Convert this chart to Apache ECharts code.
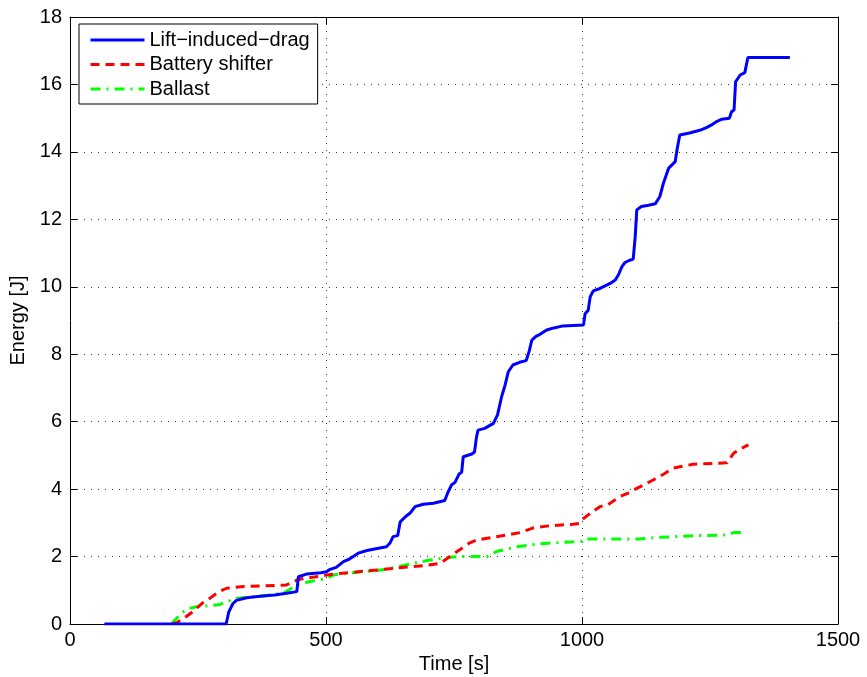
<!DOCTYPE html>
<html><head><meta charset="utf-8">
<script src="https://cdn.jsdelivr.net/npm/echarts@6/dist/echarts.min.js"></script>
<style>html,body{margin:0;padding:0;background:#fff}#c{width:867px;height:677px}</style>
</head><body><div id="c"></div>
<script>
const xTicks = [0, 500, 1000, 1500];
const yTicks = [0, 2, 4, 6, 8, 10, 12, 14, 16, 18];
const seriesNames = ['Lift\u2212induced\u2212drag', 'Battery shifter', 'Ballast'];
const liftDrag = [[67,0],[305,0],[310,0.35],[318,0.6],[325,0.7],[345,0.78],[371,0.82],[400,0.86],[423,0.91],[443,0.96],[446,1.40],[462,1.48],[490,1.52],[501,1.55],[508,1.62],[520,1.68],[534,1.85],[545,1.92],[563,2.10],[580,2.18],[600,2.24],[618,2.29],[625,2.40],[631,2.59],[640,2.62],[645,3.03],[655,3.18],[665,3.30],[674,3.48],[690,3.55],[710,3.58],[732,3.66],[738,3.9],[745,4.12],[752,4.2],[760,4.45],[765,4.5],[768,4.96],[785,5.04],[790,5.1],[794,5.55],[797,5.75],[810,5.8],[827,5.95],[835,6.2],[843,6.74],[850,7.1],[856,7.48],[865,7.68],[878,7.76],[891,7.81],[897,8.1],[902,8.42],[910,8.53],[918,8.59],[931,8.72],[945,8.78],[963,8.84],[1003,8.87],[1006,9.2],[1012,9.3],[1016,9.7],[1022,9.88],[1035,9.95],[1055,10.10],[1065,10.2],[1071,10.35],[1078,10.6],[1084,10.72],[1092,10.78],[1100,10.82],[1104,11.5],[1107,12.28],[1116,12.38],[1130,12.42],[1143,12.46],[1152,12.67],[1159,13.07],[1169,13.51],[1182,13.71],[1186,14.1],[1191,14.5],[1210,14.56],[1230,14.64],[1243,14.72],[1253,14.80],[1263,14.9],[1273,14.97],[1288,15.0],[1292,15.19],[1297,15.24],[1300,16.08],[1309,16.28],[1318,16.35],[1324,16.8],[1406,16.8]];
const batteryShifter = [[199,0],[210,0.05],[225,0.2],[241,0.38],[257,0.6],[273,0.76],[290,0.95],[306,1.06],[339,1.11],[380,1.13],[423,1.16],[443,1.30],[456,1.35],[480,1.40],[501,1.45],[527,1.50],[579,1.57],[631,1.65],[690,1.73],[723,1.80],[740,1.98],[762,2.21],[780,2.40],[794,2.49],[833,2.59],[879,2.71],[905,2.85],[935,2.91],[983,2.96],[995,2.98],[1003,3.13],[1016,3.28],[1035,3.48],[1050,3.53],[1074,3.78],[1090,3.88],[1100,3.97],[1115,4.08],[1139,4.27],[1160,4.45],[1178,4.62],[1217,4.74],[1283,4.78],[1296,5.06],[1310,5.2],[1325,5.31]];
const ballast = [[199,0],[205,0.12],[220,0.35],[230,0.45],[247,0.51],[270,0.54],[293,0.58],[310,0.68],[325,0.76],[350,0.8],[371,0.82],[417,0.91],[443,1.16],[469,1.26],[501,1.35],[514,1.45],[553,1.52],[618,1.62],[664,1.78],[697,1.88],[736,1.97],[762,2.0],[814,2.0],[833,2.15],[872,2.29],[918,2.38],[983,2.44],[1000,2.46],[1003,2.52],[1111,2.52],[1152,2.57],[1224,2.62],[1283,2.64],[1296,2.71],[1318,2.71]];

const FONT = 'Liberation Sans';
const FS = 20;
const chart = echarts.init(document.getElementById('c'), null, {renderer: 'canvas'});
const gridLine = {show: true, lineStyle: {color: '#333', type: [1, 6], width: 1}};
const baseAxis = (extra) => Object.assign({
  type: 'value',
  axisLine: {show: true, onZero: false, lineStyle: {color: '#000', width: 1}},
  axisTick: {show: true, inside: true, length: 7, lineStyle: {color: '#000', width: 1}},
  splitLine: {show: false}
}, extra);
const option = {
  animation: false,
  backgroundColor: '#fff',
  grid: {left: 70, right: 29, top: 17, bottom: 53, outerBoundsMode: 'none', containLabel: false},
  legend: {
    orient: 'vertical', left: 79, top: 24,
    backgroundColor: '#fff', borderColor: '#000', borderWidth: 1, borderRadius: 0,
    padding: [6, 8, 5, 10], itemWidth: 54, itemHeight: 14, itemGap: 4.5,
    itemStyle: {color: 'rgba(0,0,0,0)', borderWidth: 0, opacity: 0},
    lineStyle: {width: 3},
    textStyle: {fontFamily: FONT, fontSize: FS, color: '#000', lineHeight: 20},
    data: seriesNames
  },
  xAxis: [
    baseAxis({min: 0, max: 1500, interval: 500, position: 'bottom',
      name: 'Time [s]', nameLocation: 'middle', nameGap: 29,
      nameTextStyle: {fontFamily: FONT, fontSize: FS, color: '#000'},
      axisLabel: {fontFamily: FONT, fontSize: FS, color: '#000', margin: 6,
        customValues: xTicks, formatter: v => String(v)},
      splitLine: gridLine}),
    baseAxis({min: 0, max: 1500, interval: 500, position: 'top', axisLabel: {show: false}})
  ],
  yAxis: [
    baseAxis({min: 0, max: 18, interval: 2, position: 'left',
      name: 'Energy [J]', nameLocation: 'middle', nameGap: 35,
      nameTextStyle: {fontFamily: FONT, fontSize: FS, color: '#000'},
      axisLabel: {fontFamily: FONT, fontSize: FS, color: '#000', margin: 8,
        customValues: yTicks, formatter: v => String(v)},
      splitLine: gridLine}),
    baseAxis({min: 0, max: 18, interval: 2, position: 'right', axisLabel: {show: false}})
  ],
  series: [
    {name: seriesNames[0], type: 'line', data: liftDrag, showSymbol: false, symbol: 'none',
      lineStyle: {color: '#0000ff', width: 3}, itemStyle: {color: '#0000ff'}, z: 5},
    {name: seriesNames[1], type: 'line', data: batteryShifter, showSymbol: false, symbol: 'none',
      lineStyle: {color: '#ff0000', width: 3, type: [9, 6]}, itemStyle: {color: '#ff0000'}, z: 4},
    {name: seriesNames[2], type: 'line', data: ballast, showSymbol: false, symbol: 'none',
      lineStyle: {color: '#00ff00', width: 3, type: [10, 6, 2, 6]}, itemStyle: {color: '#00ff00'}, z: 3}
  ]
};
chart.setOption(option);
</script></body></html>
